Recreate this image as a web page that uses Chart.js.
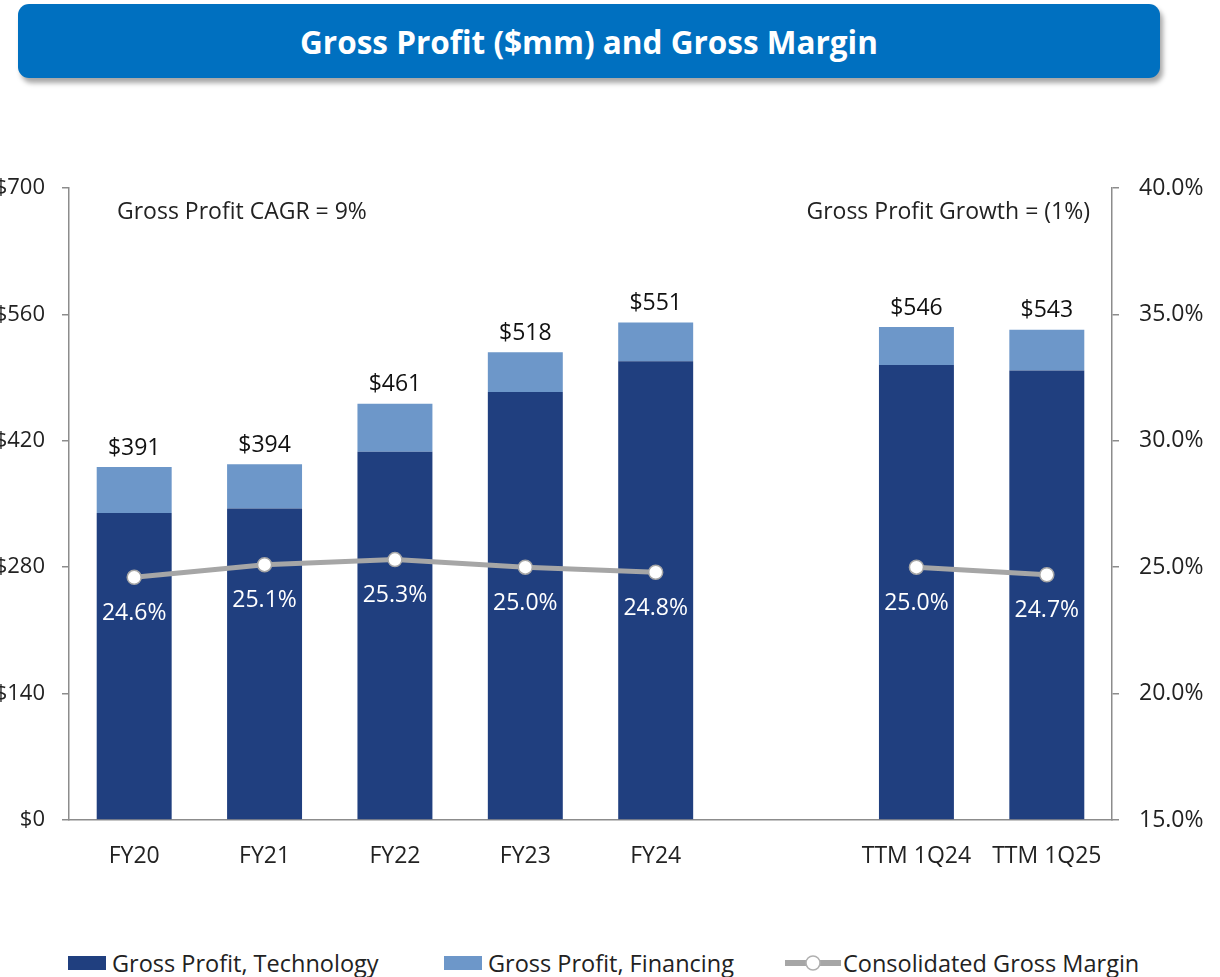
<!DOCTYPE html>
<html>
<head>
<meta charset="utf-8">
<script src="https://cdn.jsdelivr.net/npm/chart.js@4.4.1/dist/chart.umd.min.js"></script>
<style>
  html,body{margin:0;padding:0;background:#fff;width:1220px;height:977px;overflow:hidden;font-family:"Open Sans",Lato,sans-serif;}
  #banner{position:absolute;left:18px;top:4px;width:1142px;height:74px;background:#0070c0;border-radius:11px;
    box-shadow:3px 5px 5px rgba(0,0,0,0.35);color:#fff;font-weight:bold;font-size:31.5px;display:flex;align-items:center;justify-content:center;}
  #wrap{position:absolute;left:-11px;top:150px;width:1231px;height:730px;}
  .leg{position:absolute;top:947px;font-size:23.5px;color:#222;white-space:nowrap;line-height:32px;}
  .box{position:absolute;top:9px;width:38px;height:14px;}
</style>
</head>
<body>
<div id="banner"><span>Gross Profit ($mm) and Gross Margin</span></div>
<div id="wrap"><canvas id="c"></canvas></div>
<div class="leg" style="left:68px;"><span class="box" style="left:0;background:#203f7f;"></span><span style="position:absolute;left:44px;">Gross Profit, Technology</span></div>
<div class="leg" style="left:444px;"><span class="box" style="left:0;background:#6d97c9;"></span><span style="position:absolute;left:44px;">Gross Profit, Financing</span></div>
<div class="leg" style="left:785px;"><svg style="position:absolute;left:0;top:7px;" width="58" height="18"><line x1="0" y1="9" x2="56" y2="9" stroke="#a6a6a6" stroke-width="6"/><circle cx="28" cy="9" r="7" fill="#fff" stroke="#b0b0b0" stroke-width="1.5"/></svg><span style="position:absolute;left:58px;">Consolidated Gross Margin</span></div>
<script>
const categories = ["FY20","FY21","FY22","FY23","FY24","","TTM 1Q24","TTM 1Q25"];
const technology = [340, 345, 408, 474, 508, null, 504, 498];
const financing  = [51, 49, 53, 44, 43, null, 42, 45];
const totals     = [391, 394, 461, 518, 551, null, 546, 543];
const margin     = [24.6, 25.1, 25.3, 25.0, 24.8, null, 25.0, 24.7];
const leftTicks  = [0, 140, 280, 420, 560, 700];
const rightTicks = [15, 20, 25, 30, 35, 40];

const FONT = '"Open Sans", Lato, sans-serif';
const axisColor = '#8c8c8c';

const labelsPlugin = {
  id: 'labelsPlugin',
  afterDatasetsDraw(chart) {
    const ctx = chart.ctx;
    const ca = chart.chartArea;
    ctx.save();
    ctx.font = '23px ' + FONT;
    ctx.textAlign = 'center';
    ctx.textBaseline = 'middle';
    const metaFin = chart.getDatasetMeta(1);
    totals.forEach((t, i) => {
      if (t == null) return;
      const el = metaFin.data[i];
      ctx.fillStyle = '#111';
      ctx.fillText('$' + t, el.x, el.y - 19);
    });
    const metaLine = chart.getDatasetMeta(2);
    margin.forEach((m, i) => {
      if (m == null) return;
      const el = metaLine.data[i];
      ctx.fillStyle = '#ffffff';
      ctx.fillText(m.toFixed(1) + '%', el.x, el.y + 36);
    });
    ctx.fillStyle = '#222';
    ctx.font = '23px ' + FONT;
    ctx.textAlign = 'left';
    ctx.fillText('Gross Profit CAGR = 9%', ca.left + 48, ca.top + 24);
    ctx.textAlign = 'right';
    ctx.fillText('Gross Profit Growth = (1%)', ca.right - 22, ca.top + 24);
    ctx.restore();
  }
};

new Chart(document.getElementById('c'), {
  data: {
    labels: categories,
    datasets: [
      { type: 'bar', label: 'Gross Profit, Technology', data: technology, backgroundColor: '#203f7f',
        yAxisID: 'y', stack: 's', barPercentage: 0.575, categoryPercentage: 1, order: 2 },
      { type: 'bar', label: 'Gross Profit, Financing', data: financing, backgroundColor: '#6d97c9',
        yAxisID: 'y', stack: 's', barPercentage: 0.575, categoryPercentage: 1, order: 2 },
      { type: 'line', label: 'Consolidated Gross Margin', data: margin, yAxisID: 'y1',
        borderColor: '#a6a6a6', borderWidth: 5, pointRadius: 7, pointBackgroundColor: '#ffffff',
        pointBorderColor: '#a6a6a6', pointBorderWidth: 1.5, spanGaps: false, tension: 0, order: 1 }
    ]
  },
  options: {
    responsive: true,
    maintainAspectRatio: false,
    animation: false,
    layout: { padding: { top: 38, left: 0, right: 0, bottom: 0 } },
    plugins: { legend: { display: false }, tooltip: { enabled: false } },
    scales: {
      x: {
        stacked: true,
        grid: { display: false },
        border: { display: true, color: axisColor, width: 1.5 },
        ticks: { color: '#222', font: { family: FONT, size: 23 }, padding: 15, maxRotation: 0, autoSkip: false },
        afterFit(s) { s.height = 60; }
      },
      y: {
        position: 'left', stacked: true, min: 0, max: 700,
        afterBuildTicks(s) { s.ticks = leftTicks.map(v => ({ value: v })); },
        grid: { drawOnChartArea: false, drawTicks: true, tickLength: 7, color: axisColor, lineWidth: 1.5 },
        border: { display: true, color: axisColor, width: 1.5 },
        ticks: { color: '#222', font: { family: FONT, size: 22 }, padding: 17, callback: v => '$' + v },
        afterFit(s) { s.width = 80; }
      },
      y1: {
        position: 'right', stacked: false, min: 15, max: 40,
        afterBuildTicks(s) { s.ticks = rightTicks.map(v => ({ value: v })); },
        grid: { drawOnChartArea: false, drawTicks: true, tickLength: 7, color: axisColor, lineWidth: 1.5 },
        border: { display: true, color: axisColor, width: 1.5 },
        ticks: { color: '#222', font: { family: FONT, size: 23 }, padding: 20, callback: v => v.toFixed(1) + '%' },
        afterFit(s) { s.width = 108; }
      }
    }
  },
  plugins: [labelsPlugin]
});
</script>
</body>
</html>
